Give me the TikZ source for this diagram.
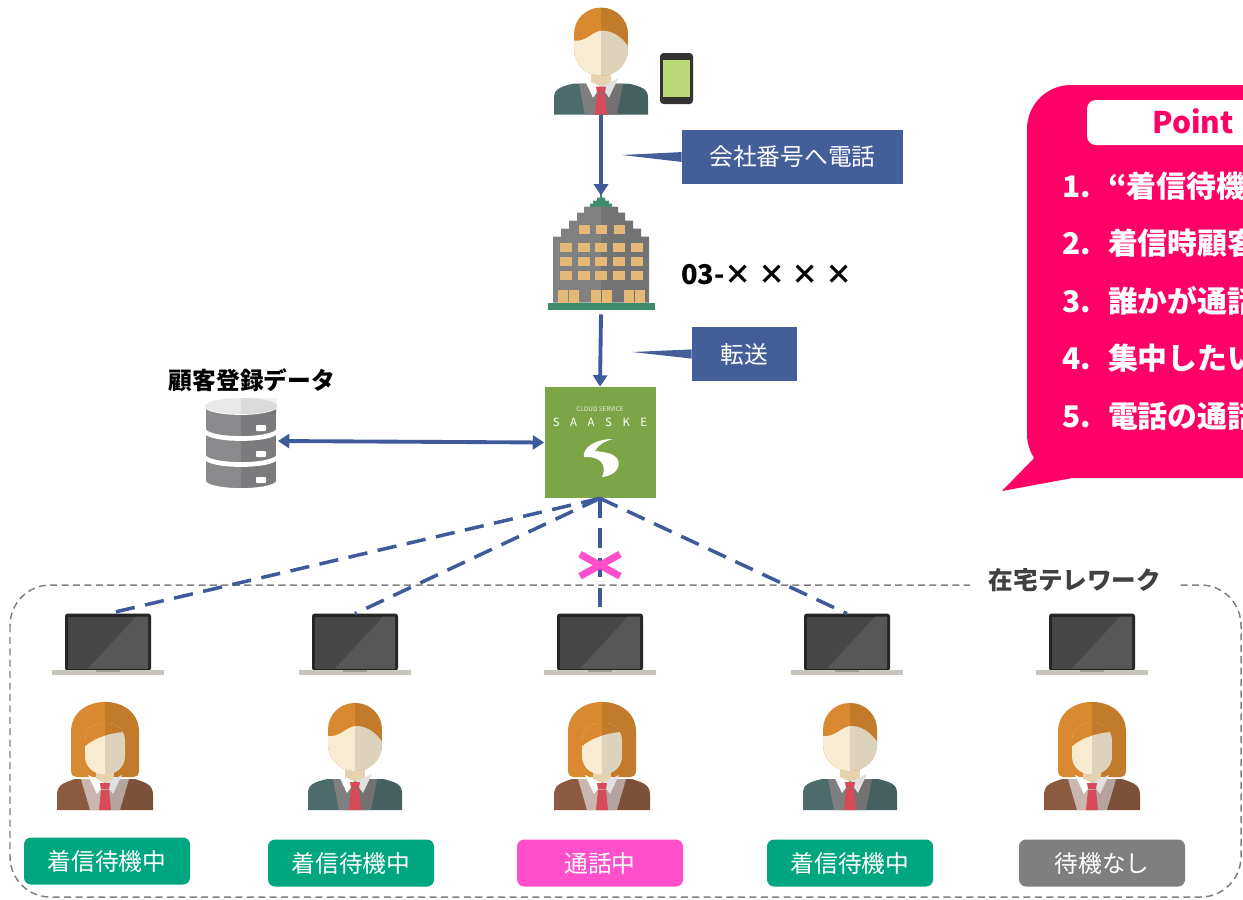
\documentclass[tikz,border=0pt]{standalone}
\usepackage{fontspec}
\setmainfont{Noto Sans CJK JP}
\usetikzlibrary{
    arrows.meta,
    positioning
}

\definecolor{linkblue}{HTML}{3F5A9A}
\definecolor{tagblue}{HTML}{445E99}
\definecolor{hair}{HTML}{D98A30}
\definecolor{skin}{HTML}{F7EBD2}
\definecolor{neck}{HTML}{E6D2AE}
\definecolor{suitman}{HTML}{4E6B6B}
\definecolor{suitwoman}{HTML}{8C5A40}
\definecolor{vest}{HTML}{7F7F7F}
\definecolor{blouse}{HTML}{C9B7AF}
\definecolor{tie}{HTML}{D64B57}
\definecolor{saaske}{HTML}{7BA546}
\definecolor{dbgray}{HTML}{8A8A8C}
\definecolor{dbtop}{HTML}{E9E9E9}
\definecolor{bldg}{HTML}{818181}
\definecolor{window}{HTML}{E4B978}
\definecolor{bldggreen}{HTML}{3E8C6D}
\definecolor{lapbase}{HTML}{C9C5BC}
\definecolor{waitgreen}{HTML}{00A680}
\definecolor{talkpink}{HTML}{FF4FCB}
\definecolor{nonegray}{HTML}{7F7F7F}
\definecolor{pointpink}{HTML}{FF0066}
\definecolor{remotegray}{HTML}{808080}

\def\pxl{0.02cm}

\tikzset{
    halfdark/.style={path picture={\fill[black,opacity=.1] (path picture bounding box.north) rectangle (path picture bounding box.south east);}},
    spot/.style 2 args={inner sep=0pt, minimum width=#1*\pxl, minimum height=#2*\pxl},
    flow/.style={linkblue, line width=2.2pt, -{Triangle[length=6.5pt,width=8pt]}},
    link/.style={linkblue, line width=2pt, dash pattern=on 11pt off 6pt},
    tag/.style={fill=tagblue, text=white, font=\fontsize{13.5pt}{16pt}\selectfont, inner sep=0pt, minimum height=54*\pxl},
    status/.style={text=white, rounded corners=4pt, font=\fontsize{13.5pt}{16pt}\selectfont, inner sep=0pt, minimum width=166*\pxl, minimum height=47*\pxl},
    remotebox/.style={remotegray, line width=.85pt, dash pattern=on 4pt off 2.5pt, rounded corners=23pt},
    pointitem/.style={anchor=west, inner sep=0pt, text=white, font=\fontsize{17pt}{20pt}\selectfont\bfseries},
    xmark/.style={talkpink, line width=4pt},
    % icons, drawn from the top centre downwards
    pics/man/.style={code={
        \fill[suitman,halfdark] (-47,107) -- (-47,90) .. controls (-47,81) and (-40,79) .. (-28,76) -- (28,76) .. controls (40,79) and (47,81) .. (47,90) -- (47,107) -- cycle;
        \fill[vest,halfdark] (-22,76) -- (22,76) -- (16,107) -- (-16,107) -- cycle;
        \fill[neck] (-10,60) rectangle (10,78);
        \fill[white] (-17,71) -- (0,79) -- (-8,90) -- cycle;
        \fill[white!88!black] (17,71) -- (0,79) -- (8,90) -- cycle;
        \fill[tie] (-5,79) -- (5,79) -- (4,85) -- (-4,85) -- cycle;
        \fill[tie] (-4,86) -- (4,86) -- (6,107) -- (-6,107) -- cycle;
        \begin{scope}
            \clip[rounded corners=15pt] (-27,0) rectangle (27,68);
            \fill[hair] (-28,-1) rectangle (28,69);
            \fill[skin] (-28,69) -- (-28,33) .. controls (-14,35) and (-8,22) .. (3,23) .. controls (14,24) and (22,31) .. (28,40) -- (28,69) -- cycle;
            \fill[black,opacity=.1] (0,-1) rectangle (28,69);
        \end{scope}
    }},
    pics/woman/.style={code={
        \fill[hair,halfdark,rounded corners=3pt] (-34,74) -- (-34,34) .. controls (-34,-11) and (34,-11) .. (34,34) -- (34,74) -- cycle;
        \fill[suitwoman,halfdark] (-48,107) -- (-48,92) .. controls (-48,82) and (-42,80) .. (-30,76) -- (30,76) .. controls (42,80) and (48,82) .. (48,92) -- (48,107) -- cycle;
        \fill[blouse,halfdark] (-24,76) -- (24,76) -- (15,107) -- (-15,107) -- cycle;
        \fill[neck] (-9,62) rectangle (9,79);
        \fill[white] (-17,72) -- (0,80) -- (-8,91) -- cycle;
        \fill[white!88!black] (17,72) -- (0,80) -- (8,91) -- cycle;
        \fill[tie] (-5,80) -- (5,80) -- (4,86) -- (-4,86) -- cycle;
        \fill[tie] (-4,87) -- (4,87) -- (6,107) -- (-6,107) -- cycle;
        \begin{scope}
            \clip[rounded corners=10pt] (-20,20) rectangle (20,71);
            \fill[skin] (-21,19) rectangle (21,72);
            \fill[hair] (-21,19) -- (21,19) -- (21,29) .. controls (8,29) and (-10,34) .. (-21,44) -- cycle;
            \fill[black,opacity=.1] (0,19) rectangle (21,72);
        \end{scope}
    }},
    pics/laptop/.style={code={
        \fill[black!85, rounded corners=1.5pt] (-43,0) rectangle (43,57);
        \fill[black!72] (-40,3) rectangle (40,55);
        \fill[black!66] (-20,55) -- (28,3) -- (40,3) -- (40,55) -- cycle;
        \fill[lapbase] (-56,56) rectangle (56,61);
        \fill[lapbase!80!black] (-12,56) rectangle (12,58);
    }},
    pics/office/.style={code={
        \draw[bldggreen, line width=.8pt] (0,-4) -- (0,4);
        \fill[bldggreen] (-11,13) -- (-11,8) -- (-8,8) -- (-8,5) -- (-4,5) -- (-4,2) -- (4,2) -- (4,5) -- (8,5) -- (8,8) -- (11,8) -- (11,13) -- cycle;
        \fill[bldg,halfdark] (-48,107) -- (-48,41) -- (-40,41) -- (-40,33) -- (-32,33) -- (-32,25) -- (-24,25) -- (-24,17) -- (-17,17) -- (-17,11) -- (17,11) -- (17,17) -- (24,17) -- (24,25) -- (32,25) -- (32,33) -- (40,33) -- (40,41) -- (48,41) -- (48,107) -- cycle;
        \foreach \wx in {-17,0,18}
            \fill[window] (\wx-5.5,29) rectangle (\wx+5.5,38);
        \foreach \wy in {47,61,75}
            \foreach \wx in {-35,-17,0,18,36}
                \fill[window] (\wx-6,\wy) rectangle (\wx+6,\wy+9);
        \foreach \dx in {-33,0,33} {
            \fill[window] (\dx-10.5,94) rectangle (\dx-0.5,107);
            \fill[window] (\dx+0.5,94) rectangle (\dx+10.5,107);
        }
        \fill[bldggreen] (-53,107) rectangle (54,114);
    }}
}

\begin{document}
\begin{tikzpicture}[x=0.02cm, y=-0.02cm]
    \useasboundingbox (0,0) rectangle (1243,899);
    \clip (0,0) rectangle (1243,899);

    % remote work area
    \draw[remotebox] (10,585) rectangle (1241,897);
    \node[fill=white, inner xsep=11pt, inner ysep=2pt, text=black!75, font=\fontsize{14pt}{16pt}\selectfont\bfseries] (remote) at (1075,580) {在宅テレワーク};

    % top: caller, office, SAASKE
    \node[spot={95}{107}] (caller) at (601,61.5) {};
    \pic at (caller.north) {man};
    \fill[black!80, rounded corners=2pt] (660,53) rectangle (693,104);
    \fill[green!30!yellow!45!white!85!black] (663,60) rectangle (690,97);

    \node[spot={107}{118}] (bldg) at (601,255) {};
    \pic at (bldg.north) {office};

    \node[fill=saaske, spot={111}{111}] (saaske) at (600,442.5) {};
    \node[text=white!85!saaske, font=\fontsize{3.6pt}{4pt}\selectfont] (cloudsvc) at (600,409) {CLOUD SERVICE};
    \node[text=white, font=\fontsize{6.5pt}{7pt}\selectfont] (saaskename) at (600,422) {S\hspace{6pt}A\hspace{6pt}A\hspace{6pt}S\hspace{6pt}K\hspace{6pt}E};
    \fill[white] (613,439) .. controls (595,439) and (582,448) .. (584,457)
        .. controls (598,456) and (608,463) .. (602,477)
        .. controls (614,476) and (621,468) .. (618,460)
        .. controls (614,452) and (601,452) .. (595,451)
        .. controls (598,445) and (605,441) .. (613,439) -- cycle;

    \draw[flow] (caller.south) -- (bldg.north);
    \draw[flow] (bldg.south) -- (saaske.north);

    \node[tag, minimum width=221*\pxl] (calltag) at (792.5,157) {会社番号へ電話};
    \coordinate (calltip) at (622,155);
    \fill[tagblue] ([yshift=2.8pt]calltag.west) -- (calltip) -- ([yshift=-2.8pt]calltag.west) -- cycle;

    \node[tag, minimum width=105*\pxl] (fwdtag) at (744.5,354) {転送};
    \coordinate (fwdtip) at (632,352);
    \fill[tagblue] ([yshift=2.6pt]fwdtag.west) -- (fwdtip) -- ([yshift=-2.6pt]fwdtag.west) -- cycle;

    \node[font=\fontsize{15.5pt}{18pt}\selectfont\bfseries, anchor=west, inner sep=0pt] (phoneno) at (681,275) {03-× × × ×};

    % customer database
    \node[spot={73}{91}] (db) at (241,441) {};
    \foreach \y in {458,432,406}
        \fill[dbgray,halfdark,draw=white,line width=1pt] (205,\y) arc[start angle=180, end angle=0, x radius=36, y radius=8] -- (277,\y+23) arc[start angle=0, end angle=180, x radius=36, y radius=8] -- cycle;
    \fill[dbtop] (241,406) ellipse[x radius=36, y radius=8];
    \fill[black,opacity=.06] (241,398) rectangle (277,414);
    \foreach \y in {406,432,458}
        \fill[white, rounded corners=.5pt] (256,\y+19) rectangle (266,\y+25);
    \node[font=\fontsize{13.5pt}{16pt}\selectfont\bfseries] (dbtitle) at (252,380) {顧客登録データ};

    \draw[flow, {Triangle[length=6.5pt,width=8pt]}-{Triangle[length=6.5pt,width=8pt]}] (db.east) -- (saaske.west);

    % teleworkers
    \foreach \x/\n in {108/A,355/B,600/C,847/D,1092/E} {
        \node[spot={112}{61}] (lap\n) at (\x,644.5) {};
        \pic at (lap\n.north) {laptop};
    }
    \foreach \x/\k in {105/woman,355/man,602/woman,850/man,1092/woman}
        \pic at (\x,703) {\k};

    \foreach \n in {A,B,D}
        \draw[link] (saaske.south) -- (lap\n.north);
    \draw[link] (saaske.south) -- coordinate[pos=.58] (cut) (lapC.north);
    \draw[xmark] ([shift={(-20,-11)}]cut) -- ([shift={(20,11)}]cut);
    \draw[xmark] ([shift={(-20,11)}]cut) -- ([shift={(20,-11)}]cut);

    \node[status, fill=waitgreen] (statA) at (107,861) {着信待機中};
    \node[status, fill=waitgreen] (statB) at (351,863) {着信待機中};
    \node[status, fill=talkpink] (statC) at (600,863) {通話中};
    \node[status, fill=waitgreen] (statD) at (850,863) {着信待機中};
    \node[status, fill=nonegray] (statE) at (1102,863) {待機なし};

    % point balloon
    \fill[pointpink, rounded corners=25pt] (1027,85) rectangle (1330,478);
    \fill[pointpink] (1042,450) -- (1002,491) -- (1078,477) -- cycle;
    \fill[white, rounded corners=5pt] (1087,100) rectangle (1300,145);
    \node[text=pointpink, inner sep=0pt, font=\fontsize{17pt}{20pt}\selectfont\bfseries] (pointtitle) at (1193,121) {Point};
    \foreach \num/\txt [count=\k from 0] in {1./“着信待機, 2./着信時顧客, 3./誰かが通話, 4./集中したい, 5./電話の通話}
        \node[pointitem] (item\k) at (1062,{186+57.5*\k}) {\makebox[26pt][l]{\num}\txt};
\end{tikzpicture}
\end{document}
